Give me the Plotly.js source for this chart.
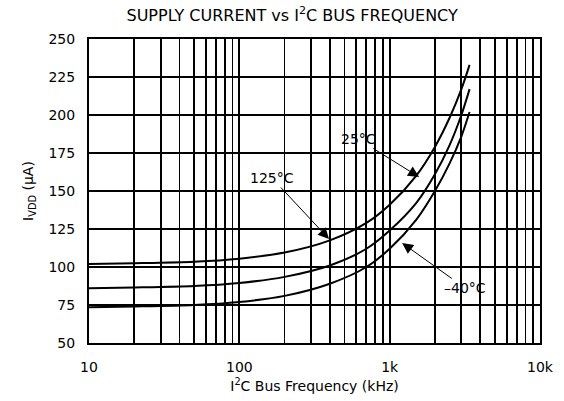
<!DOCTYPE html>
<html>
<head>
<meta charset="utf-8">
<script src="https://cdn.plot.ly/plotly-3.0.1.min.js"></script>
<style>html,body{margin:0;padding:0;background:#fff;}#chart{width:564px;height:401px;}</style>
</head>
<body>
<div id="chart"></div>
<script>
// Bus frequency (kHz)
const freqKHz = [10, 20, 50, 100, 200, 400, 700, 1000, 1500, 2000, 2500, 3000, 3400];
// Supply current (uA) per temperature
const iddT125 = [102, 102.5, 103.5, 105.5, 109.5, 117.5, 129, 141, 160, 179, 198, 217, 233];
const iddT25  = [86, 86.5, 87.5, 89.5, 93.5, 101, 112, 124, 142, 161, 180, 200, 217];
const iddTm40 = [73.5, 74, 75, 77, 81, 89, 100, 112, 131, 150, 168, 186, 202];
const seriesNames = ['125°C', '25°C', '–40°C'];

// x labels at decades, minor gridlines at 2..9 multiples
const xDecades = [10, 100, 1000, 10000];
const xDecadeLabels = ['10', '100', '1k', '10k'];
const yTicks = [50, 75, 100, 125, 150, 175, 200, 225, 250];

const xMinorVals = [];
for (let d = 0; d < 3; d++) {
  for (let m = 2; m <= 9; m++) xMinorVals.push(xDecades[d] * m);
}

const FONT = 'DejaVu Sans, Arial, sans-serif';
const traces = [iddT125, iddT25, iddTm40].map((ys, i) => ({
  x: freqKHz, y: ys, type: 'scatter', mode: 'lines',
  name: seriesNames[i], line: {color: '#000', width: 2, shape: 'spline', smoothing: 0.8},
  hoverinfo: 'skip'
}));

const annFont = {family: FONT, size: 14, color: '#000'};
const ann = (text, fx, fy, ax, ay) => ({
  text: text, x: Math.log10(fx), y: fy, xref: 'x', yref: 'y',
  ax: ax, ay: ay, showarrow: true, arrowhead: 2, arrowsize: 2.2, arrowwidth: 1,
  arrowcolor: '#000', font: annFont
});

const gridW = 1.8;
const layout = {
  width: 564, height: 401,
  margin: {l: 89, r: 24, t: 39, b: 58},
  paper_bgcolor: '#fff', plot_bgcolor: '#fff',
  showlegend: false,
  font: {family: FONT, size: 14, color: '#000'},
  title: {
    text: 'SUPPLY CURRENT vs I<sup>2</sup>C BUS FREQUENCY',
    font: {family: FONT, size: 16, color: '#000'},
    x: 0.518, xref: 'container', xanchor: 'center',
    y: 0.962, yref: 'container', yanchor: 'middle'
  },
  xaxis: {
    type: 'log', range: [1, 4],
    tickmode: 'array', tickvals: xDecades, ticktext: xDecadeLabels,
    ticks: '', ticklabelstandoff: 10,
    showgrid: true, gridcolor: '#000', gridwidth: gridW,
    minor: {tickmode: 'array', tickvals: xMinorVals, ticks: '',
            showgrid: true, gridcolor: '#000', gridwidth: gridW},
    showline: true, linecolor: '#000', linewidth: 2, mirror: true,
    zeroline: false, tickfont: {family: FONT, size: 14, color: '#000'},
    title: {text: 'I<sup>2</sup>C Bus Frequency (kHz)', standoff: 7,
            font: {family: FONT, size: 14, color: '#000'}}
  },
  yaxis: {
    range: [50, 250], tickmode: 'array', tickvals: yTicks,
    ticks: '', ticklabelstandoff: 9,
    showgrid: true, gridcolor: '#000', gridwidth: gridW,
    showline: true, linecolor: '#000', linewidth: 2, mirror: true,
    zeroline: false, tickfont: {family: FONT, size: 14, color: '#000'},
    title: {text: 'I<sub>VDD</sub> (µA)', standoff: 12,
            font: {family: FONT, size: 14, color: '#000'}}
  },
  annotations: [
    ann('125°C', 395, 118.4, -57, -61),
    ann('25°C', 1570, 159.2, -61, -38),
    ann('–40°C', 1210, 115.8, 63, 45)
  ]
};

Plotly.newPlot('chart', traces, layout, {staticPlot: true, displayModeBar: false});
</script>
</body>
</html>
